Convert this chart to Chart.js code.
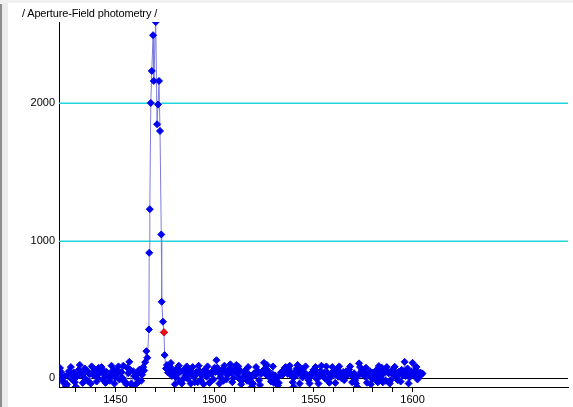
<!DOCTYPE html>
<html>
<head>
<meta charset="utf-8">
<script src="https://cdn.jsdelivr.net/npm/chart.js@4/dist/chart.umd.min.js"></script>
<style>
  html, body { margin: 0; padding: 0; background: #fff; }
  #wrap { position: relative; width: 573px; height: 407px; overflow: hidden; }
  #frameTop { position: absolute; left: 0; top: 0; width: 573px; height: 3px; background: #f0f0f0; }
  #frameDark { position: absolute; left: 0; top: 4px; width: 2px; height: 403px; background: #8c8c8c; }
  #frameLight { position: absolute; left: 2px; top: 3px; width: 6px; height: 404px; background: #ececec; }
  #title { position: absolute; left: 22px; top: 8px; font: 11px "Liberation Sans", Arial, sans-serif; line-height: 11px; letter-spacing: -0.15px; color: #000; white-space: nowrap; }
  #chartBox { position: absolute; left: 0; top: 0; width: 573px; height: 407px; }
</style>
</head>
<body>
<div id="wrap">
  <div id="frameTop"></div>
  <div id="frameDark"></div>
  <div id="frameLight"></div>
  <div id="chartBox"><canvas id="myChart_phot"></canvas></div>
  <div id="title">/ Aperture-Field photometry /</div>
</div>
<script>
// flux measurements (x = frame index, y = counts)
var fluxX = [
    1422, 1422.5, 1423, 1423.5, 1424, 1424.5, 1425, 1425.5, 1426, 1426.5,
    1427, 1427.5, 1428, 1428.5, 1429, 1429.5, 1430, 1430.5, 1431, 1431.5,
    1432, 1432.5, 1433, 1433.5, 1434, 1434.5, 1435, 1435.5, 1436, 1436.5,
    1437, 1437.5, 1438, 1438.5, 1439, 1439.5, 1440, 1440.5, 1441, 1441.5,
    1442, 1442.5, 1443, 1443.5, 1444, 1444.5, 1445, 1445.5, 1446, 1446.5,
    1447, 1447.5, 1448, 1448.5, 1449, 1449.5, 1450, 1450.5, 1451, 1451.5,
    1452, 1452.5, 1453, 1453.5, 1454, 1454.5, 1455, 1455.5, 1456, 1456.5,
    1457, 1457.5, 1458, 1458.5, 1459, 1459.5, 1460, 1460.5, 1461, 1461.5,
    1462, 1462.5, 1463, 1463.5, 1464, 1464.5,
    1465, 1465.6, 1466.1, 1466.9, 1467.05, 1467.35, 1467.85, 1468.35, 1469, 1469.35,
    1470.35, 1471, 1471.5, 1472, 1472.5, 1473.15, 1473.35, 1474, 1474.5, 1474.85,
    1475.5, 1476, 1476.5, 1477, 1477.5, 1478, 1478.5, 1479, 1479.5, 1480,
    1480.5, 1481, 1481.5, 1482, 1482.5, 1483, 1483.5, 1484, 1484.5, 1485,
    1485.5, 1486, 1486.5, 1487, 1487.5, 1488, 1488.5, 1489, 1489.5, 1490,
    1490.5, 1491, 1491.5, 1492, 1492.5, 1493, 1493.5, 1494, 1494.5, 1495,
    1495.5, 1496, 1496.5, 1497, 1497.5, 1498, 1498.5, 1499, 1499.5, 1500,
    1500.5, 1501, 1501.5, 1502, 1502.5, 1503, 1503.5, 1504, 1504.5, 1505,
    1505.5, 1506, 1506.5, 1507, 1507.5, 1508, 1508.5, 1509, 1509.5, 1510,
    1510.5, 1511, 1511.5, 1512, 1512.5, 1513, 1513.5, 1514, 1514.5, 1515,
    1515.5, 1516, 1516.5, 1517, 1517.5, 1518, 1518.5, 1519, 1519.5, 1520,
    1520.5, 1521, 1521.5, 1522, 1522.5, 1523, 1523.5, 1524, 1524.5, 1525,
    1525.5, 1526, 1526.5, 1527, 1527.5, 1528, 1528.5, 1529, 1529.5, 1530,
    1530.5, 1531, 1531.5, 1532, 1532.5, 1533, 1533.5, 1534, 1534.5, 1535,
    1535.5, 1536, 1536.5, 1537, 1537.5, 1538, 1538.5, 1539, 1539.5, 1540,
    1540.5, 1541, 1541.5, 1542, 1542.5, 1543, 1543.5, 1544, 1544.5, 1545,
    1545.5, 1546, 1546.5, 1547, 1547.5, 1548, 1548.5, 1549, 1549.5, 1550,
    1550.5, 1551, 1551.5, 1552, 1552.5, 1553, 1553.5, 1554, 1554.5, 1555,
    1555.5, 1556, 1556.5, 1557, 1557.5, 1558, 1558.5, 1559, 1559.5, 1560,
    1560.5, 1561, 1561.5, 1562, 1562.5, 1563, 1563.5, 1564, 1564.5, 1565,
    1565.5, 1566, 1566.5, 1567, 1567.5, 1568, 1568.5, 1569, 1569.5, 1570,
    1570.5, 1571, 1571.5, 1572, 1572.5, 1573, 1573.5, 1574, 1574.5, 1575,
    1575.5, 1576, 1576.5, 1577, 1577.5, 1578, 1578.5, 1579, 1579.5, 1580,
    1580.5, 1581, 1581.5, 1582, 1582.5, 1583, 1583.5, 1584, 1584.5, 1585,
    1585.5, 1586, 1586.5, 1587, 1587.5, 1588, 1588.5, 1589, 1589.5, 1590,
    1590.5, 1591, 1591.5, 1592, 1592.5, 1593, 1593.5, 1594, 1594.5, 1595,
    1595.5, 1596, 1596.5, 1597, 1597.5, 1598, 1598.5, 1599, 1599.5, 1600,
    1600.5, 1601, 1601.5, 1602, 1602.5, 1603, 1603.5, 1604, 1604.5, 1605
];
var fluxY = [
    73, 45, 10, -20, -36, 15, -58, -45, 20, 50,
    35, 80, -10, 25, 40, -30, -63, 10, 25, 60,
    95, 40, 30, -35, 5, 70, 45, 55, -20, 35,
    30, -40, 85, 40, 20, 65, 45, -25, 0, 75,
    35, 50, 80, -10, 55, 25, -35, 45, 30, 5,
    -20, 35, 90, 15, 60, -40, 5, 55, 35, 85,
    -10, 40, 45, 0, 90, -25, -30, -45, 75, 35,
    118, 60, -40, -55, 50, 15, -50, 5, 30, -30,
    60, 40, -20, 25, 80, 55,
    116, 196, 148, 354, 911, 1229, 2002, 2235, 2495, 2162,
    2591, 1847, 1990, 2162, 1798, 1045, 555, 410, 333, 167,
    70, 95, 40, 60, 85, 110, 15, 30, 55, -45,
    5, 70, 35, 90, -25, 50, -40, -10, 60, 40,
    20, 85, -5, 55, 35, -40, 45, 80, 10, -30,
    25, 45, -30, 90, 50, -15, 20, 40, -45, 60,
    40, 10, 85, 35, -35, -25, 30, 50, -10, 75,
    45, 130, 75, 40, -40, 5, 35, 60, -20, 90,
    50, -10, 20, 45, 65, 100, 40, -30, 0, 70,
    50, 95, 30, 85, -5, 55, -45, -15, 10, 40,
    55, 10, -20, 80, 25, -30, 5, -63, -40, 35,
    20, 80, 45, 50, -15, -50, 30, 40, 55, 111,
    70, 25, 95, 55, 35, 0, -25, 30, 85, -35,
    20, -20, 0, -53, -35, 20, 40, 45, 25, 60,
    75, 80, 55, 30, 65, 90, 40, 15, -30, -63,
    10, 50, 70, 95, 35, -40, 55, 70, 5, 20,
    40, 85, 25, 5, -15, -39, 10, 35, 45, 60,
    35, 80, -5, 45, -40, 10, 50, 90, 15, 30,
    40, -5, 85, 40, -10, -34, 5, 25, 80, 50,
    30, -35, 55, 60, 10, 85, 40, 0, 20, 45,
    -15, 20, 50, 35, 25, 63, 85, 30, -30, 10,
    35, -20, -40, -63, 15, 107, 80, 45, 30, 60,
    40, 10, 75, -34, 20, 30, 50, -45, -5, 40,
    25, -10, 55, 25, -31, 87, 40, 5, 75, -31,
    35, 50, -20, 80, 45, 35, -40, -15, 55, 30,
    25, 82, 40, 10, -15, 45, 30, -25, 60, 20,
    50, 118, 15, 40, 70, -39, 5, 30, 45, 111,
    20, 25, 60, 80, -10, 10, 35, 40, 25, 34
];
// highlighted (selected) point
var markX = [1474.5];
var markY = [333];

var yTicks = [0, 1000, 2000];
var yGridColors = ['#000000', '#1ed6de', '#1ed6de'];
var yGridSoft = ['rgba(0,0,0,0)', 'rgba(30,214,222,0.5)', 'rgba(30,214,222,0.5)'];
var yMin = -65, yMax = 2591;
var xMin = 1421.5, xMax = 1678.5;
var xFirstTick = 1430, xLastTick = 1600;

var mainPoints = fluxX.map(function (x, i) { return { x: x, y: fluxY[i] }; });
var markPoints = markX.map(function (x, i) { return { x: x, y: markY[i] }; });

var tickFont = { family: '"Liberation Sans", Arial, sans-serif', size: 11 };

// horizontal level lines at each y tick, under the data
var levelLines = {
    id: 'levelLines',
    beforeDatasetsDraw: function (chart) {
        var ctx = chart.ctx, area = chart.chartArea, ys = chart.scales.y;
        ctx.save();
        yTicks.forEach(function (v, i) {
            var py = Math.round(ys.getPixelForValue(v));
            ctx.fillStyle = yGridColors[i];
            ctx.fillRect(area.left, py, area.right - area.left, 1);
            ctx.fillStyle = yGridSoft[i];
            ctx.fillRect(area.left, py - 1, area.right - area.left, 1);
        });
        ctx.restore();
    }
};

const config = {
    type: 'scatter',
    data: {
        datasets: [{
            data: markPoints,
            showLine: false,
            pointStyle: 'rectRot',
            pointRadius: 3.5,
            pointBorderWidth: 1,
            pointBackgroundColor: '#f01010',
            pointBorderColor: '#f01010',
        }, {
            data: mainPoints,
            showLine: true,
            borderColor: '#7c7cdc',
            borderWidth: 1,
            pointStyle: 'rectRot',
            pointRadius: 3.5,
            pointBorderWidth: 1,
            pointBackgroundColor: '#0000f0',
            pointBorderColor: '#0000f0',
        }],
    },
    options: {
        responsive: true,
        maintainAspectRatio: false,
        devicePixelRatio: 1,
        animation: false,
        events: [],
        layout: { padding: { top: 22, left: 0, right: 0, bottom: 0 } },
        plugins: { legend: { display: false }, tooltip: { enabled: false }, title: { display: false } },
        scales: {
            x: {
                type: 'linear',
                min: xMin,
                max: xMax,
                border: { display: true, color: '#000', width: 1 },
                grid: { drawOnChartArea: false, drawTicks: true, tickLength: 5, color: '#000', lineWidth: 1 },
                ticks: {
                    stepSize: 10,
                    includeBounds: false,
                    autoSkip: false,
                    maxRotation: 0,
                    padding: 1,
                    color: '#000',
                    font: tickFont,
                    callback: function (v) { return v % 50 === 0 ? String(v) : ''; },
                },
                afterBuildTicks: function (axis) {
                    axis.ticks = axis.ticks.filter(function (t) { return t.value >= xFirstTick && t.value <= xLastTick; });
                },
                afterFit: function (axis) { axis.height = 20; },
            },
            y: {
                min: yMin,
                max: yMax,
                border: { display: true, color: '#000', width: 1 },
                grid: { drawOnChartArea: false, drawTicks: false },
                ticks: {
                    padding: 4,
                    color: '#000',
                    font: tickFont,
                    callback: function (v) { return String(v); },
                },
                afterBuildTicks: function (axis) {
                    axis.ticks = yTicks.map(function (v) { return { value: v }; });
                },
                afterFit: function (axis) { axis.width = 59; },
            },
        },
    },
    plugins: [levelLines],
};

const myChart_phot = new Chart(document.getElementById('myChart_phot'), config);
</script>
</body>
</html>
